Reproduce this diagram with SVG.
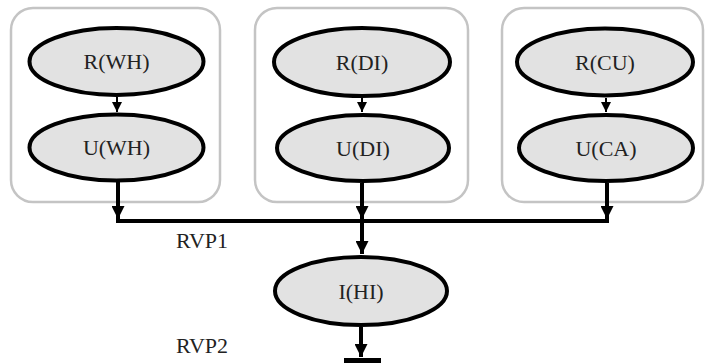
<svg xmlns="http://www.w3.org/2000/svg" width="706" height="363" viewBox="0 0 706 363">
<style>
.box{fill:#fff;stroke:#c4c4c4;stroke-width:2.5}
.node{fill:#e2e2e2;stroke:#000;stroke-width:4}
.lbl{font-family:"Liberation Serif","Times New Roman",serif;font-size:22px;fill:#222;text-anchor:middle}
.side{font-family:"Liberation Serif","Times New Roman",serif;font-size:22px;fill:#222}
.thin{stroke:#000;stroke-width:2;fill:none}
.thick{stroke:#000;stroke-width:4;fill:none}
</style>
<defs>
<marker id="ahs" markerUnits="userSpaceOnUse" viewBox="0 0 10 10" refX="10" refY="5" markerWidth="10" markerHeight="10" orient="auto"><path d="M0,0 L10,5 L0,10 z" fill="#000"/></marker>
<marker id="ahb" markerUnits="userSpaceOnUse" viewBox="0 0 10 10" refX="10" refY="5" markerWidth="13" markerHeight="13" orient="auto"><path d="M0,0 L10,5 L0,10 z" fill="#000"/></marker>
</defs>
<rect width="706" height="363" fill="#fff"/>
<g id="cluster-left"><rect class="box" x="11" y="8" width="209" height="194" rx="22"/></g>
<g id="cluster-mid"><rect class="box" x="255" y="8" width="213" height="194" rx="22"/></g>
<g id="cluster-right"><rect class="box" x="502" y="8" width="201" height="194" rx="22"/></g>
<g id="connectors">
<line class="thin" x1="117" y1="97" x2="117" y2="112" marker-end="url(#ahs)"/>
<line class="thin" x1="362" y1="98" x2="362" y2="112" marker-end="url(#ahs)"/>
<line class="thin" x1="606" y1="98" x2="606" y2="112" marker-end="url(#ahs)"/>
<line class="thick" x1="118" y1="182" x2="118" y2="219" marker-end="url(#ahb)"/>
<line class="thick" x1="362" y1="183" x2="362" y2="219" marker-end="url(#ahb)"/>
<line class="thick" x1="607" y1="183" x2="607" y2="219" marker-end="url(#ahb)"/>
<line class="thick" x1="116" y1="221" x2="609" y2="221"/>
<line class="thick" x1="362" y1="221" x2="362" y2="254" marker-end="url(#ahb)"/>
<line class="thick" x1="361" y1="327" x2="361" y2="357" marker-end="url(#ahb)"/>
<rect x="344" y="358" width="37" height="6" fill="#000"/>
</g>
<g id="R_WH"><ellipse class="node" cx="116.5" cy="61.5" rx="87" ry="33.5"/><text class="lbl" x="116.5" y="69">R(WH)</text></g>
<g id="U_WH"><ellipse class="node" cx="116.5" cy="147.5" rx="87" ry="33"/><text class="lbl" x="116.5" y="155">U(WH)</text></g>
<g id="R_DI"><ellipse class="node" cx="362" cy="62" rx="88" ry="34"/><text class="lbl" x="362" y="69.5">R(DI)</text></g>
<g id="U_DI"><ellipse class="node" cx="363" cy="148" rx="86" ry="33"/><text class="lbl" x="363" y="155.5">U(DI)</text></g>
<g id="R_CU"><ellipse class="node" cx="605" cy="62" rx="88" ry="33.5"/><text class="lbl" x="605" y="69.5">R(CU)</text></g>
<g id="U_CA"><ellipse class="node" cx="606" cy="148" rx="87" ry="33"/><text class="lbl" x="606" y="155.5">U(CA)</text></g>
<g id="I_HI"><ellipse class="node" cx="361" cy="291" rx="86" ry="34"/><text class="lbl" x="361" y="298.5">I(HI)</text></g>
<g id="labels">
<text class="side" x="176" y="248">RVP1</text>
<text class="side" x="176" y="353">RVP2</text>
</g>
</svg>
